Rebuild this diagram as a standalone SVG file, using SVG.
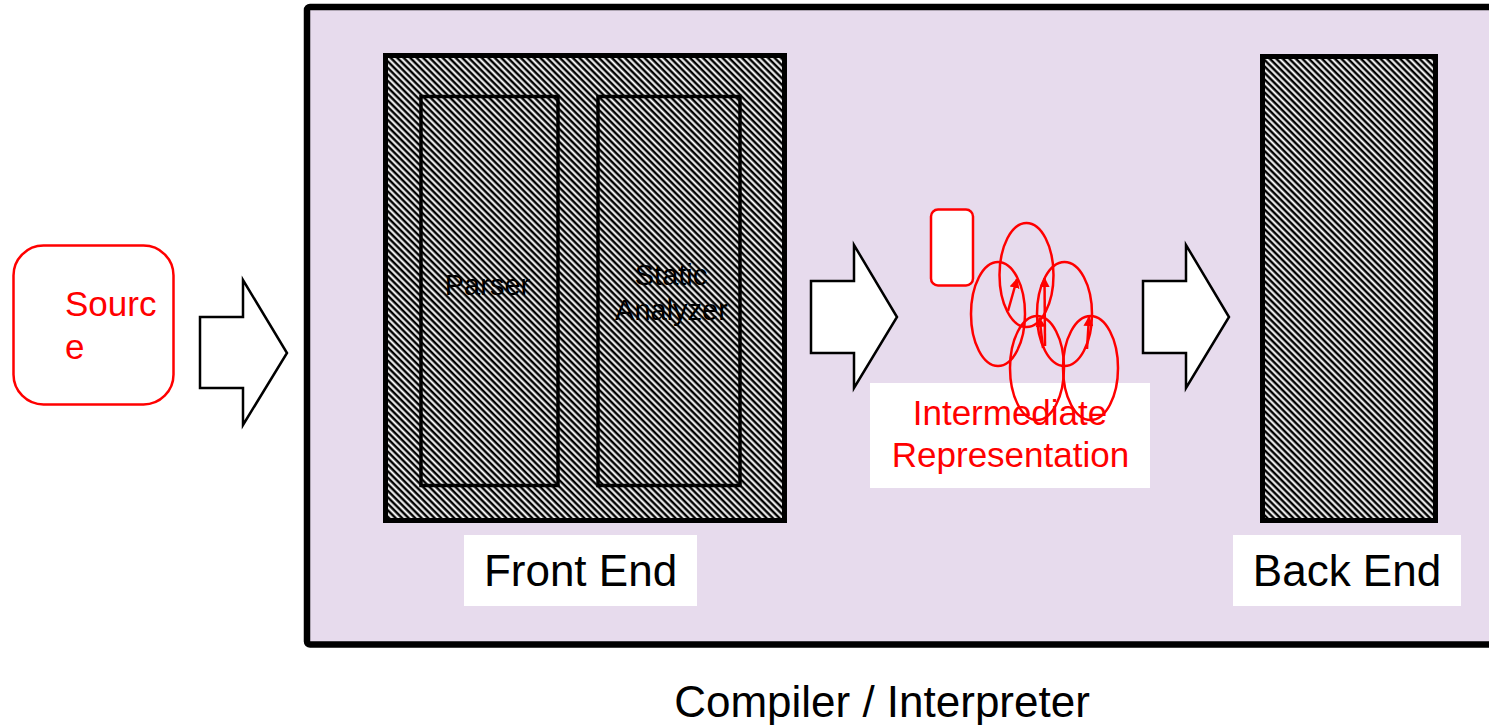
<svg xmlns="http://www.w3.org/2000/svg" width="1489" height="725" viewBox="0 0 1489 725">
  <style>
    .lbl { font-family: "Liberation Sans", Arial, sans-serif; }
    .big { font-size: 44px; fill: #000; text-anchor: middle; }
    .inner { font-size: 29px; fill: #000; text-anchor: middle; }
    .red { fill: #ff0000; }
    .frame { fill: #e7dbed; stroke: #000; stroke-width: 6.5; }
    .hatch-outer { fill: url(#hatch); stroke: #000; stroke-width: 5; }
    .hatch-inner { fill: url(#hatch); stroke: #000; stroke-width: 3.5; }
    .block-arrow { fill: #fff; stroke: #000; stroke-width: 2.5; stroke-linejoin: miter; }
    .ir-node { fill: none; stroke: #ff0000; stroke-width: 2.5; }
    .ir-edge { fill: none; stroke: #ff0000; stroke-width: 2.5; marker-end: url(#redHead); }
    .white-box { fill: #fff; stroke: none; }
  </style>
  <defs>
    <!-- soft black/white diagonal stripes -->
    <linearGradient id="stripeGrad" x1="0" y1="0" x2="1" y2="0">
      <stop offset="0" stop-color="#000"/>
      <stop offset="0.35" stop-color="#000"/>
      <stop offset="0.55" stop-color="#fff"/>
      <stop offset="0.8" stop-color="#fff"/>
      <stop offset="1" stop-color="#000"/>
    </linearGradient>
    <pattern id="hatch" patternUnits="userSpaceOnUse" width="4.6" height="20" patternTransform="rotate(-45)">
      <rect x="0" y="0" width="4.6" height="20" fill="url(#stripeGrad)"/>
    </pattern>
    <marker id="redHead" viewBox="0 0 10 10" refX="9" refY="5" markerWidth="4" markerHeight="4" orient="auto" markerUnits="strokeWidth">
      <path d="M0,0 L10,5 L0,10 z" fill="#ff0000"/>
    </marker>
  </defs>

  <!-- compiler / interpreter frame -->
  <g id="compiler">
    <rect class="frame" x="307" y="7" width="1200" height="637.5" rx="3"/>
  </g>

  <!-- source -->
  <g id="source">
    <rect x="13.5" y="245.5" width="160" height="159" rx="30" fill="#fff" stroke="#ff0000" stroke-width="2.5"/>
    <text class="lbl red" font-size="35" x="65" y="316">Sourc</text>
    <text class="lbl red" font-size="35" x="65" y="359">e</text>
  </g>

  <!-- front end -->
  <g id="front-end">
    <rect class="hatch-outer" x="385.5" y="55.5" width="399" height="465"/>
    <rect class="white-box" x="464" y="535" width="233" height="71"/>
    <text class="lbl big" x="580.5" y="586">Front End</text>
  </g>
  <g id="parser">
    <rect class="hatch-inner" x="421" y="96.5" width="137" height="389"/>
    <text class="lbl inner" x="487.5" y="295">Parser</text>
  </g>
  <g id="static-analyzer">
    <rect class="hatch-inner" x="598" y="96.5" width="142" height="389"/>
    <text class="lbl inner" x="671" y="285">Static</text>
    <text class="lbl inner" x="671.5" y="320">Analyzer</text>
  </g>

  <!-- intermediate representation -->
  <g id="intermediate-representation">
    <rect class="white-box" x="870" y="383" width="280" height="105"/>
    <rect x="931" y="209.5" width="42" height="76" rx="7" fill="#fff" stroke="#ff0000" stroke-width="2.5"/>
    <ellipse class="ir-node" cx="1026.5" cy="275" rx="27" ry="52"/>
    <ellipse class="ir-node" cx="998" cy="314" rx="27" ry="52"/>
    <ellipse class="ir-node" cx="1064.5" cy="314" rx="27.5" ry="52"/>
    <ellipse class="ir-node" cx="1037" cy="368" rx="27" ry="52"/>
    <ellipse class="ir-node" cx="1090.5" cy="368" rx="27.5" ry="52"/>
    <line class="ir-edge" x1="1008" y1="311" x2="1017" y2="279"/>
    <line class="ir-edge" x1="1045" y1="346" x2="1044.5" y2="278"/>
    <line class="ir-edge" x1="1043" y1="348" x2="1039.5" y2="318"/>
    <line class="ir-edge" x1="1087" y1="349" x2="1089" y2="317"/>
    <text class="lbl red" font-size="35" text-anchor="middle" x="1010" y="425">Intermediate</text>
    <text class="lbl red" font-size="35" text-anchor="middle" x="1010.5" y="467">Representation</text>
  </g>

  <!-- back end -->
  <g id="back-end">
    <rect class="hatch-outer" x="1262.5" y="56.5" width="173" height="464"/>
    <rect class="white-box" x="1233" y="535" width="228" height="71"/>
    <text class="lbl big" x="1347" y="586">Back End</text>
  </g>

  <!-- flow arrows between stages -->
  <g id="connectors">
    <polygon class="block-arrow" points="200,317 243,317 243,280 287,353 243,425 243,388 200,388"/>
    <polygon class="block-arrow" points="811,281 854,281 854,245 897,317 854,388 854,353 811,353"/>
    <polygon class="block-arrow" points="1143,281 1186,281 1186,245 1229,317 1186,388 1186,353 1143,353"/>
  </g>

  <text class="lbl big" x="882" y="717">Compiler / Interpreter</text>
</svg>
